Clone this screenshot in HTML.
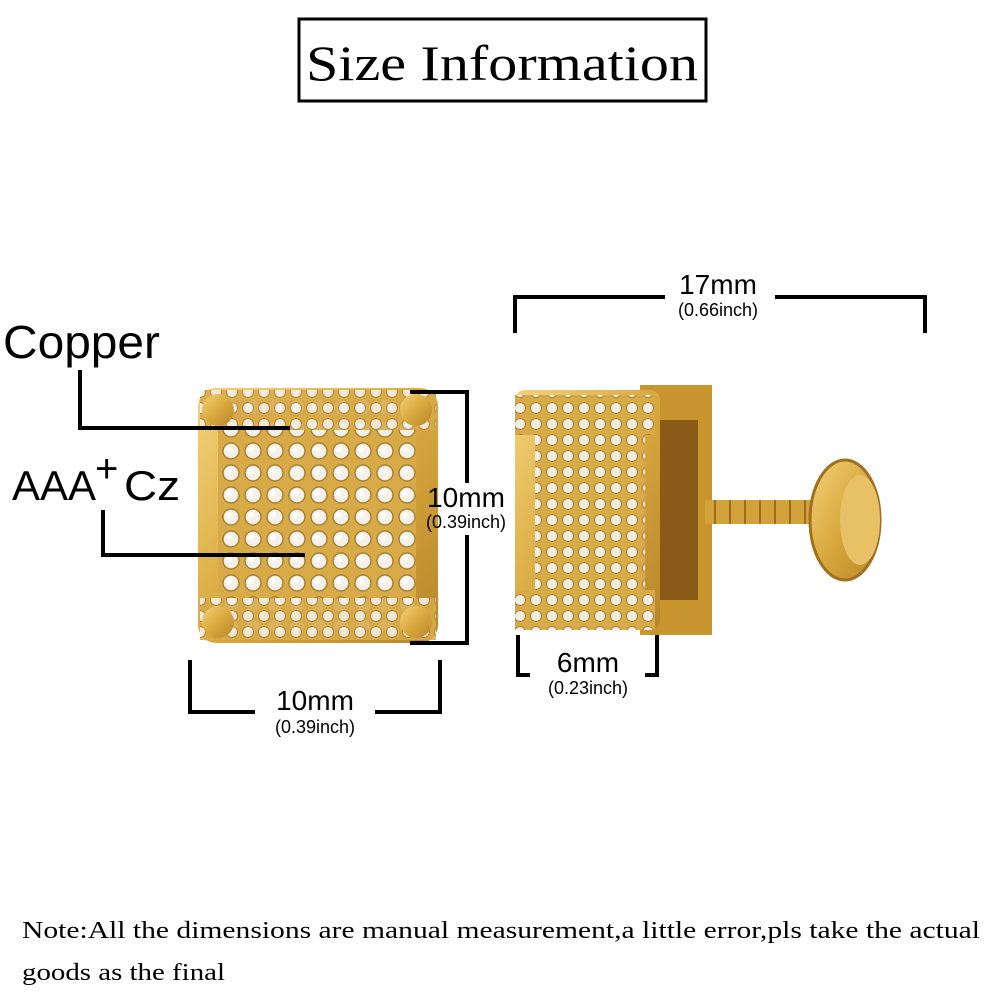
<!DOCTYPE html>
<html><head><style>
html,body{margin:0;padding:0;background:#fff;width:1000px;height:1000px;overflow:hidden}
</style></head><body>
<svg width="1000" height="1000" xmlns="http://www.w3.org/2000/svg">
<defs>
<linearGradient id="g" x1="0" y1="0" x2="1" y2="1">
<stop offset="0" stop-color="#f3d27a"/><stop offset="0.5" stop-color="#d9a93e"/><stop offset="1" stop-color="#b8862a"/>
</linearGradient>
<pattern id="d" width="22" height="22" patternUnits="userSpaceOnUse">
<rect width="22" height="22" fill="#d8ab48"/>
<circle cx="11" cy="11" r="8" fill="#f4f1ea" stroke="#a88030" stroke-width="1.5"/>
<circle cx="9" cy="9" r="3" fill="#fff"/>
</pattern>
<pattern id="d2" width="16" height="16" patternUnits="userSpaceOnUse">
<rect width="16" height="16" fill="#d8ab48"/>
<circle cx="8" cy="8" r="5.5" fill="#f2efe8" stroke="#a88030" stroke-width="1"/>
</pattern>
</defs>
<rect x="299" y="19" width="407" height="82" fill="none" stroke="#000" stroke-width="3"/>
<text x="306" y="80" textLength="392" lengthAdjust="spacingAndGlyphs" font-family="Liberation Serif,serif" font-size="50">Size Information</text>

<!-- left earring -->
<rect x="198" y="388" width="240" height="255" rx="18" fill="url(#g)"/>
<rect x="218" y="400" width="198" height="230" rx="10" fill="url(#d)"/>
<rect x="200" y="390" width="236" height="40" fill="url(#d2)" opacity="0.9"/>
<rect x="200" y="598" width="236" height="42" fill="url(#d2)" opacity="0.9"/>
<circle cx="218" cy="410" r="16" fill="url(#g)"/><circle cx="416" cy="410" r="16" fill="url(#g)"/>
<circle cx="218" cy="622" r="16" fill="url(#g)"/><circle cx="416" cy="622" r="16" fill="url(#g)"/>

<!-- right earring -->
<rect x="640" y="385" width="72" height="250" fill="#c8952e"/>
<rect x="658" y="420" width="40" height="180" fill="#8a5a18"/>
<rect x="515" y="390" width="145" height="240" rx="10" fill="url(#g)"/>
<rect x="535" y="430" width="110" height="160" fill="url(#d2)"/>
<rect x="515" y="395" width="140" height="40" fill="url(#d2)"/>
<rect x="515" y="590" width="140" height="40" fill="url(#d2)"/>
<rect x="705" y="500" width="120" height="24" fill="#d4a23a"/>
<g stroke="#9b6c1e" stroke-width="2">
<line x1="715" y1="500" x2="715" y2="524"/><line x1="730" y1="500" x2="730" y2="524"/><line x1="745" y1="500" x2="745" y2="524"/><line x1="760" y1="500" x2="760" y2="524"/><line x1="775" y1="500" x2="775" y2="524"/><line x1="790" y1="500" x2="790" y2="524"/><line x1="805" y1="500" x2="805" y2="524"/>
</g>
<ellipse cx="845" cy="520" rx="35" ry="60" fill="url(#g)" stroke="#a0701e" stroke-width="3"/>
<ellipse cx="860" cy="520" rx="20" ry="45" fill="#e8c065"/>

<!-- labels -->
<g font-family="Liberation Sans,sans-serif" fill="#000">
<text x="3" y="358" font-size="46" textLength="157" lengthAdjust="spacingAndGlyphs">Copper</text>
<text x="12" y="500" font-size="42">AAA</text>
<text x="95" y="482" font-size="40">+</text>
<text x="124" y="500" font-size="42" textLength="56" lengthAdjust="spacingAndGlyphs">Cz</text>
<text x="466" y="507" font-size="28" text-anchor="middle">10mm</text>
<text x="466" y="528" font-size="18" text-anchor="middle">(0.39inch)</text>
<text x="315" y="710" font-size="28" text-anchor="middle">10mm</text>
<text x="315" y="733" font-size="18" text-anchor="middle">(0.39inch)</text>
<text x="718" y="294" font-size="28" text-anchor="middle">17mm</text>
<text x="718" y="316" font-size="18" text-anchor="middle">(0.66inch)</text>
<text x="588" y="672" font-size="28" text-anchor="middle">6mm</text>
<text x="588" y="694" font-size="18" text-anchor="middle">(0.23inch)</text>
</g>
<g stroke="#000" stroke-width="4" fill="none">
<polyline points="80,370 80,428 290,428"/>
<polyline points="103,510 103,555 305,555"/>
<polyline points="410,392 467,392 467,483"/>
<polyline points="467,535 467,643 410,643"/>
<polyline points="190,660 190,712 255,712"/>
<polyline points="375,712 440,712 440,660"/>
<polyline points="515,333 515,297 665,297"/>
<polyline points="775,297 925,297 925,333"/>
<polyline points="518,635 518,675 530,675"/>
<polyline points="645,675 657,675 657,635"/>
</g>
<g font-family="Liberation Serif,serif" font-size="24" fill="#000">
<text x="22" y="938" textLength="958" lengthAdjust="spacingAndGlyphs">Note:All the dimensions are manual measurement,a little error,pls take the actual</text>
<text x="22" y="980" textLength="203" lengthAdjust="spacingAndGlyphs">goods as the final</text>
</g>
</svg>
</body></html>
